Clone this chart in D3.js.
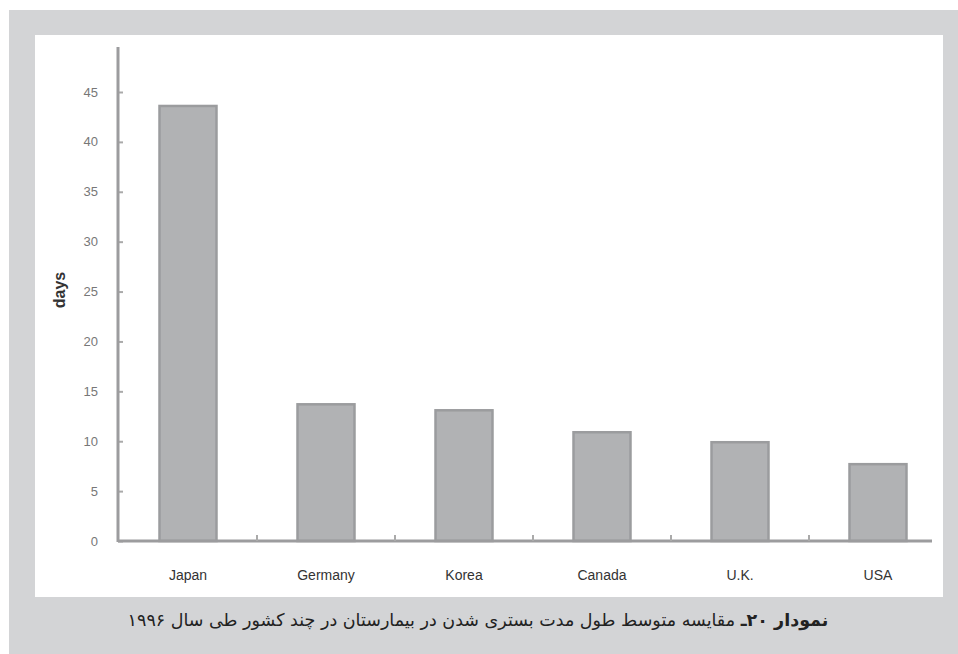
<!DOCTYPE html>
<html>
<head>
<meta charset="utf-8">
<script src="https://cdn.jsdelivr.net/npm/d3@7"></script>
<style>
    body { margin: 0; background: #fff; }
    svg { display: block; }
</style>
</head>
<body>
<script>
// data
var countries = ["Japan", "Germany", "Korea", "Canada", "U.K.", "USA"];
var days = [43.6, 13.7, 13.1, 10.9, 9.9, 7.7];
var yTicks = [0, 5, 10, 15, 20, 25, 30, 35, 40, 45];
var yLabel = "days";
var captionBold = "نمودار ۲۰ـ";
var captionText = " مقایسه متوسط طول مدت بستری شدن در بیمارستان در چند کشور طی سال ۱۹۹۶";

var svg = d3.select("body")
    .append("svg")
    .attr("width", 958)
    .attr("height", 654)

// grey frame and white panel
svg.append("rect")
    .attr("x", 9).attr("y", 10)
    .attr("width", 949).attr("height", 644)
    .attr("fill", "#d3d4d6")
svg.append("rect")
    .attr("x", 35).attr("y", 35)
    .attr("width", 908).attr("height", 562)
    .attr("fill", "#ffffff")

var x = d3.scaleBand()
    .domain(countries)
    .range([119, 947])
    .paddingInner(0.587)
    .paddingOuter(0.2935)

var y = d3.scaleLinear()
    .domain([0, 45])
    .range([541, 92])

// bars
svg.selectAll("rect.bar")
    .data(days)
    .enter()
    .append("rect")
    .attr("class", "bar")
    .attr("x", function(d, i) { return x(countries[i]) })
    .attr("y", function(d) { return y(d) })
    .attr("width", x.bandwidth())
    .attr("height", function(d) { return y(0) - y(d) })
    .attr("fill", "#b1b2b4")
    .attr("stroke", "#9b9c9e")
    .attr("stroke-width", 2.5)

// y axis
var yAxis = svg.append("g")
    .attr("transform", "translate(118,0)")
    .call(d3.axisRight(y).tickValues(yTicks).tickSize(5).tickFormat(""))
yAxis.select(".domain").remove()
yAxis.selectAll("line").attr("stroke", "#aaaaaa").attr("stroke-width", 2)

svg.append("line")
    .attr("x1", 118).attr("x2", 118)
    .attr("y1", 47).attr("y2", y(0) + 1)
    .attr("stroke", "#9c9c9e")
    .attr("stroke-width", 3)

svg.selectAll("text.ytick")
    .data(yTicks)
    .enter()
    .append("text")
    .attr("class", "ytick")
    .attr("x", 98)
    .attr("y", function(d) { return y(d) + 4.5 })
    .attr("text-anchor", "end")
    .attr("font-family", "Liberation Sans, Arial, sans-serif")
    .attr("font-size", 13)
    .attr("fill", "#777")
    .text(function(d) { return d })

// x axis
svg.append("line")
    .attr("x1", 118).attr("x2", 932)
    .attr("y1", y(0)).attr("y2", y(0))
    .attr("stroke", "#9c9c9e")
    .attr("stroke-width", 3)

// small separator ticks between categories
svg.selectAll("line.sep")
    .data(countries.slice(1))
    .enter()
    .append("line")
    .attr("class", "sep")
    .attr("x1", function(d) { return x(d) - x.step() * x.paddingInner() / 2 })
    .attr("x2", function(d) { return x(d) - x.step() * x.paddingInner() / 2 })
    .attr("y1", y(0))
    .attr("y2", y(0) - 6)
    .attr("stroke", "#aaaaaa")
    .attr("stroke-width", 2)

svg.selectAll("text.xlab")
    .data(countries)
    .enter()
    .append("text")
    .attr("class", "xlab")
    .attr("x", function(d) { return x(d) + x.bandwidth() / 2 })
    .attr("y", 580)
    .attr("text-anchor", "middle")
    .attr("font-family", "Liberation Sans, Arial, sans-serif")
    .attr("font-size", 14)
    .attr("fill", "#333")
    .text(function(d) { return d })

svg.append("text")
    .attr("transform", "rotate(-90)")
    .attr("x", -290)
    .attr("y", 65)
    .attr("text-anchor", "middle")
    .attr("font-family", "Liberation Sans, Arial, sans-serif")
    .attr("font-size", 16)
    .attr("font-weight", "bold")
    .attr("fill", "#333")
    .text(yLabel)

// caption
var cap = svg.append("text")
    .attr("x", 478)
    .attr("y", 626)
    .attr("text-anchor", "middle")
    .attr("direction", "rtl")
    .attr("font-family", "DejaVu Sans, sans-serif")
    .attr("font-size", 17.5)
    .attr("fill", "#222")
cap.append("tspan").attr("font-weight", "bold").text(captionBold)
cap.append("tspan").text(captionText)
</script>
</body>
</html>
